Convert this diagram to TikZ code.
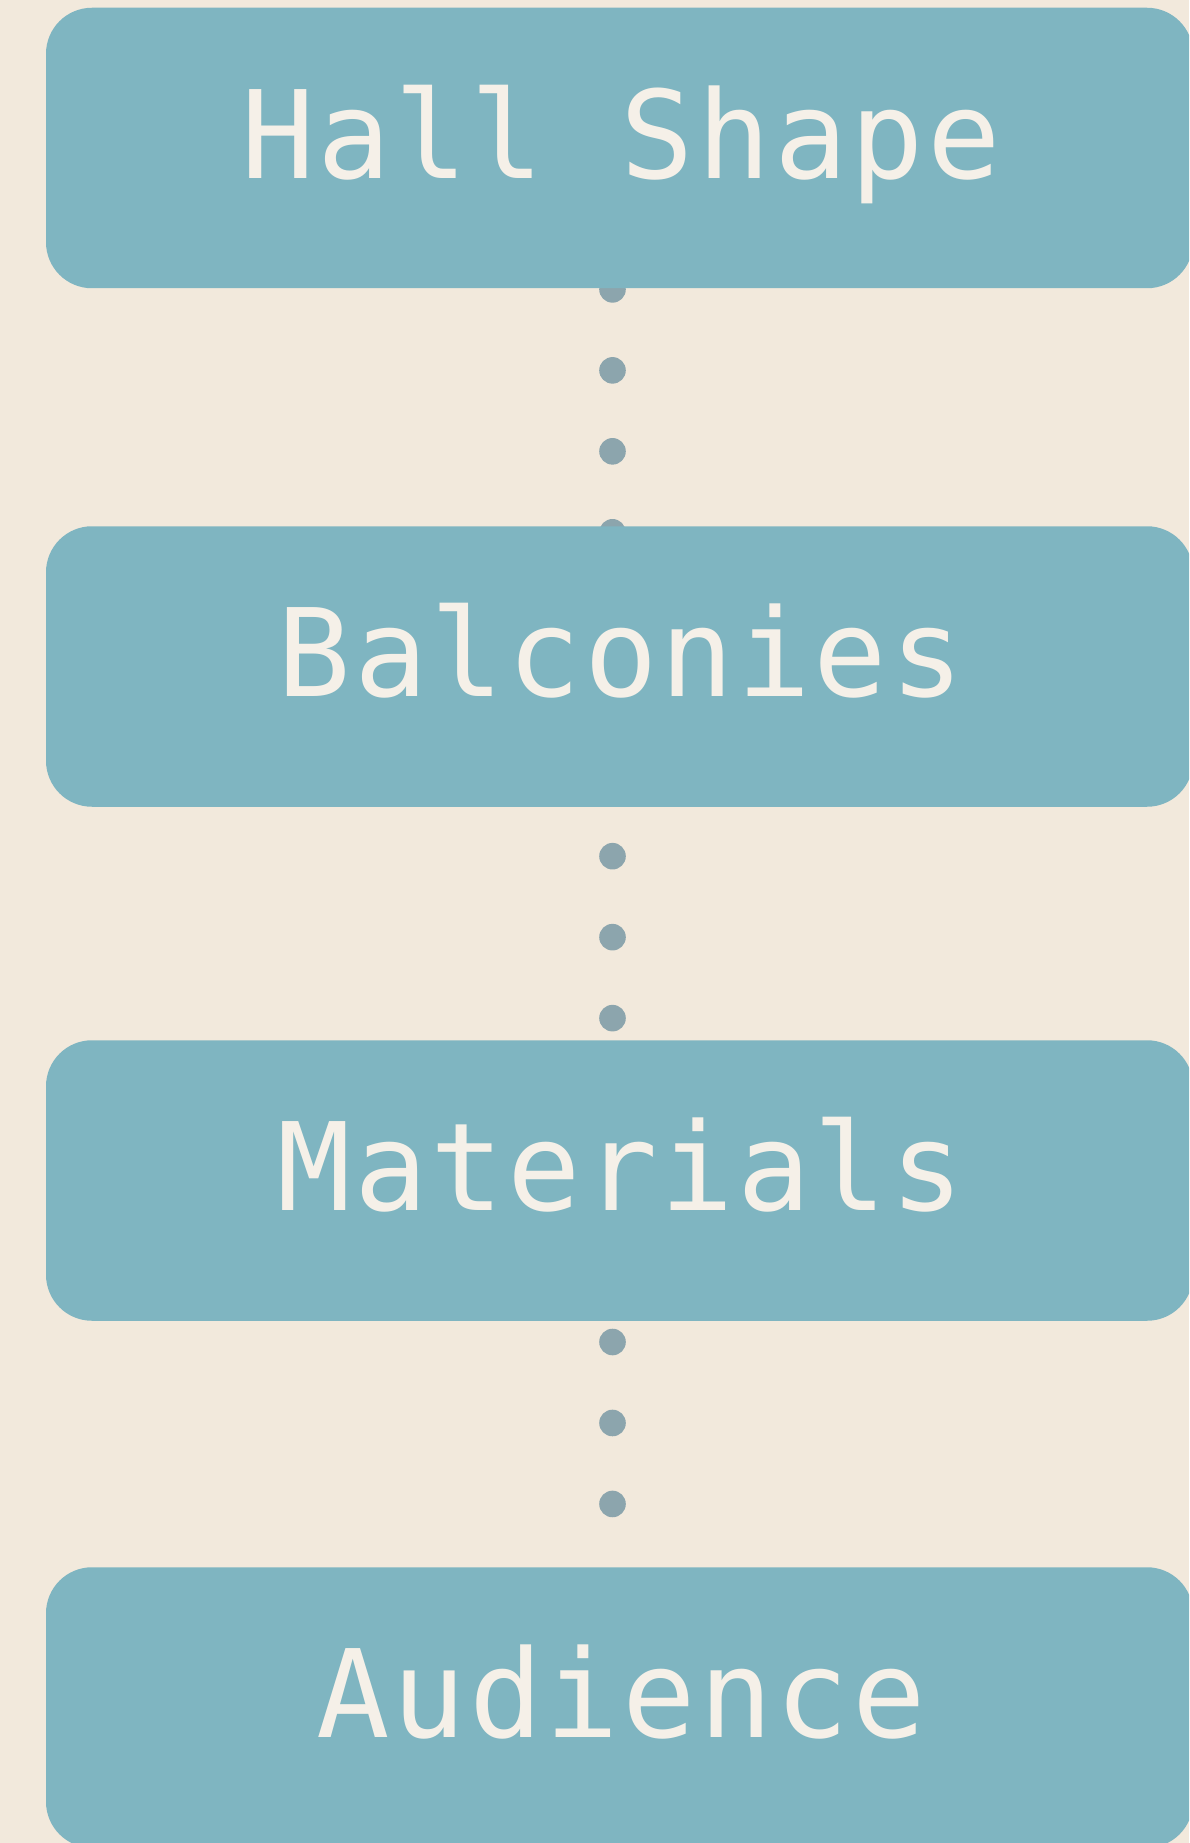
\documentclass[tikz,border=0pt]{standalone}
\usepackage{fontspec}
\newfontfamily\boxfont[LetterSpace=2.6]{DejaVu Sans Mono}
\definecolor{bgc}{HTML}{F2E9DC}
\definecolor{boxc}{HTML}{7FB5C1}
\definecolor{dotc}{HTML}{8CA5AD}
\definecolor{txtc}{HTML}{F5F0E8}
\pgfdeclarelayer{bglayer}
\pgfdeclarelayer{connlayer}
\pgfsetlayers{bglayer,connlayer,main}
\tikzset{
  stagebox/.style={fill=boxc, draw=none, rounded corners=46pt, inner sep=0pt,
    minimum width=1147pt, text height=170.5pt, text depth=110pt,
    text=txtc, font=\boxfont\fontsize{122pt}{140pt}\selectfont},
  dotline/.style={draw=dotc, line width=26.6pt, line cap=round,
    dash pattern=on 0pt off 80.97pt}
}
\begin{document}
\begin{tikzpicture}[x=1pt,y=-1pt]
\useasboundingbox (0,0) rectangle (1189,1843);
\clip (0,0) rectangle (1189,1843);
\begin{pgfonlayer}{bglayer}
\fill[bgc] (0,0) rectangle (1189,1843);
\end{pgfonlayer}
\node[stagebox] (b1) at (619.5,148) {\kern3pt Hall Shape};
\node[stagebox] (b2) at (619.5,666.5) {\kern3pt Balconies};
\node[stagebox] (b3) at (619.5,1180.5) {\kern3pt Materials};
\node[stagebox] (b4) at (619.5,1707.5) {\kern3pt Audience};
\begin{pgfonlayer}{connlayer}
\draw[dotline, dash phase=20.54pt] ([xshift=-7pt]b1.center) -- ([xshift=-7pt]b2.center);
\draw[dotline, dash phase=53.22pt] ([xshift=-7pt]b2.center) -- ([xshift=-7pt]b3.center);
\draw[dotline, dash phase=0.43pt] ([xshift=-7pt]b3.center) -- ([xshift=-7pt]b4.center);
\end{pgfonlayer}
\end{tikzpicture}
\end{document}
